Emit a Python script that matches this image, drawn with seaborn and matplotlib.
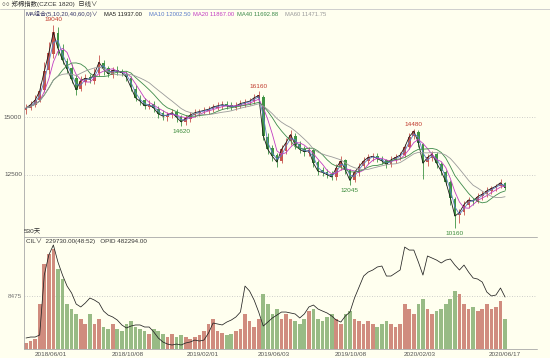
import numpy as np
import pandas as pd
import matplotlib
matplotlib.use("Agg")
import matplotlib.pyplot as plt
import seaborn as sns

sns.set_style("white")
plt.rcParams['font.family'] = ['Liberation Sans', 'Noto Sans CJK SC', 'DejaVu Sans']

# ---------------- data (one candle = ~5 trading days) ----------------
close = [15400, 15550, 15750, 16150, 17000, 17800, 18700, 18000, 17500, 17100,
         16650, 16200, 16600, 16700, 16650, 16900, 17400, 17100, 16900, 17050,
         17000, 16950, 16750, 16300, 15850, 15700, 15500, 15550, 15400, 15150,
         15050, 15100, 15200, 15000, 14800, 14950, 15100, 15200, 15250, 15300,
         15350, 15450, 15500, 15550, 15500, 15450, 15500, 15600, 15650, 15700,
         15850, 15950, 14200, 13600, 13300, 13050, 13600, 13900, 14250, 13800,
         13600, 13500, 13550, 13000, 12650, 12600, 12500, 12400, 12800, 13100,
         12700, 12250, 12600, 12850, 13100, 13250, 13300, 13200, 13100, 12950,
         13150, 13250, 13350, 13700, 14150, 14400, 13900, 13000, 13250, 13400,
         13000, 12650, 12200, 11500, 10700, 10850, 11200, 11400, 11350, 11550,
         11650, 11800, 11900, 12000, 12150, 11940]
open_ = [15300, 15420, 15530, 15760, 16200, 17050, 17750, 18650, 17950, 17450,
         17150, 16700, 16250, 16550, 16750, 16600, 16950, 17350, 17150, 16850,
         17080, 16980, 16900, 16700, 16250, 15800, 15750, 15450, 15600, 15380,
         15200, 15000, 15120, 15250, 15020, 14780, 14930, 15120, 15180, 15270,
         15280, 15380, 15420, 15480, 15580, 15520, 15420, 15520, 15580, 15680,
         15720, 15820, 15900, 14150, 13650, 13350, 13100, 13550, 13950, 14200,
         13850, 13620, 13450, 13580, 13050, 12700, 12620, 12520, 12380, 12820,
         13120, 12700, 12280, 12580, 12870, 13080, 13270, 13320, 13180, 13120,
         12980, 13130, 13270, 13380, 13720, 14180, 14380, 13850, 13050, 13220,
         13420, 12980, 12620, 12180, 11450, 10750, 10880, 11180, 11420, 11330,
         11560, 11670, 11780, 11920, 12020, 12130]
high = [15600, 15700, 15950, 16500, 17400, 18300, 19040, 18950, 18200, 17600,
        17300, 16850, 16800, 16900, 16900, 17150, 17700, 17500, 17250, 17200,
        17250, 17100, 17000, 16800, 16400, 15950, 15850, 15750, 15700, 15500,
        15300, 15250, 15350, 15350, 15100, 15100, 15250, 15350, 15380, 15450,
        15500, 15600, 15650, 15700, 15700, 15650, 15650, 15750, 15800, 15850,
        16000, 16160, 15950, 14300, 13800, 13450, 13800, 14100, 14450, 14300,
        13950, 13750, 13700, 13650, 13150, 12850, 12750, 12650, 12950, 13300,
        13200, 12750, 12700, 13000, 13250, 13400, 13450, 13450, 13300, 13200,
        13300, 13400, 13500, 13850, 14300, 14480, 14450, 13900, 13400, 13550,
        13500, 13050, 12700, 12250, 11550, 11000, 11350, 11550, 11500, 11700,
        11800, 11950, 12000, 12100, 12300, 12200]
low = [15150, 15300, 15450, 15650, 16100, 16900, 17600, 17700, 17300, 16950,
       16500, 15950, 16150, 16400, 16500, 16450, 16800, 16850, 16750, 16700,
       16850, 16800, 16600, 16150, 15700, 15550, 15350, 15350, 15250, 14950,
       14900, 14850, 14950, 14800, 14620, 14650, 14800, 15000, 15050, 15150,
       15150, 15250, 15300, 15350, 15350, 15300, 15300, 15400, 15450, 15550,
       15600, 15700, 14000, 13400, 13100, 12850, 13000, 13400, 13800, 13600,
       13450, 13300, 13300, 12850, 12500, 12450, 12350, 12250, 12250, 12700,
       12550, 12045, 12200, 12450, 12750, 12950, 13100, 13050, 12950, 12800,
       12850, 13000, 13150, 13250, 13600, 14050, 13700, 12300, 12900, 13100,
       12800, 12500, 12050, 11200, 10160, 10400, 10750, 11050, 11200, 11250,
       11400, 11550, 11650, 11800, 11900, 11850]
volume = [6, 8, 10, 45, 85, 95, 100, 80, 70, 45,
          40, 35, 30, 25, 35, 25, 30, 22, 20, 25,
          20, 18, 25, 28, 22, 20, 18, 15, 20, 18,
          15, 12, 15, 12, 14, 12, 10, 12, 14, 18,
          25, 30, 18, 16, 14, 15, 18, 20, 35, 28,
          22, 30, 55, 45, 35, 40, 30, 35, 30, 28,
          25, 30, 38, 40, 30, 28, 32, 35, 30, 25,
          35, 38, 30, 28, 25, 28, 25, 22, 25, 28,
          25, 22, 25, 45, 40, 35, 45, 50, 40, 35,
          38, 40, 45, 50, 58, 55, 45, 40, 42, 38,
          40, 45, 40, 42, 48, 30]
open_interest = [102, 111, 111, 130, 686, 872, 965, 807, 686, 584,
                 519, 417, 390, 427, 473, 454, 427, 352, 315, 297,
                 269, 223, 195, 213, 223, 223, 204, 204, 158, 102,
                 65, 46, 37, 46, 37, 56, 65, 83, 74, 83,
                 148, 241, 232, 223, 250, 269, 297, 343, 584, 538,
                 454, 343, 213, 250, 288, 315, 343, 343, 334, 325,
                 288, 325, 390, 408, 371, 352, 334, 306, 269, 250,
                 306, 343, 473, 575, 677, 714, 733, 761, 770, 677,
                 677, 705, 733, 946, 918, 918, 807, 686, 863, 844,
                 825, 798, 825, 835, 779, 733, 779, 714, 659, 649,
                 621, 529, 492, 501, 566, 482]
date_labels = ["2018/06/01", "2018/10/08", "2019/02/01", "2019/06/03",
               "2019/10/08", "2020/02/03", "2020/06/17"]
date_pos = [5.5, 22.4, 38.8, 54.2, 71.1, 86.2, 105]
ma_names = ["MA5", "MA10", "MA20", "MA40", "MA60"]
ma_windows = [1, 2, 4, 8, 12]          # in 5-day candles
ma_values = ["11937.00", "12002.50", "11867.00", "11692.88", "11471.75"]
peak_labels = [(6, 19040, "h"), (51, 16160, "h"), (34, 14620, "l"),
               (71, 12045, "l"), (85, 14480, "h"), (94, 10160, "l")]

# ---------------- styling ----------------
BG = "#FFFFEF"
UP = "#C8554E"
DN = "#3F9443"
ma_colors = ["#1A1A1A", "#5A7BC8", "#C23CC2", "#3D8A4A", "#9A9A9A"]
W, H = 550, 358

df = pd.DataFrame({"k": np.arange(len(close)), "open": open_, "high": high,
                   "low": low, "close": close, "vol": volume, "oi": open_interest})
df["up"] = df["close"] >= df["open"]

fig = plt.figure(figsize=(W / 100, H / 100), dpi=100, facecolor=BG)

def fx(px):
    return px / W

def fy(py):
    return 1 - py / H

ax = fig.add_axes([fx(24), fy(237), fx(513), 228 / H])
ax.set_facecolor(BG)
ax.set_xlim(-0.44, 112.0)
ax.set_ylim(9787, 19717)

for g in (15000, 12500):
    ax.axhline(g, color="#BEBEBE", lw=0.6, ls=(0, (1, 2)), zorder=0)

# candles
cols = np.where(df["up"], UP, DN)
ax.vlines(df["k"], df["low"], df["high"], colors=cols, lw=0.6, zorder=2)
body_b = np.minimum(df["open"], df["close"])
body_h = np.maximum(np.abs(df["close"] - df["open"]), 25)
ax.bar(df["k"], body_h, bottom=body_b, width=0.6, color=cols, lw=0, zorder=2)

# moving averages
for name, w, c in zip(ma_names, ma_windows, ma_colors):
    ma = df["close"].rolling(w, min_periods=1).mean()
    sns.lineplot(x=df["k"], y=ma, ax=ax, color=c, lw=0.6, zorder=3)

for k, v, kind in peak_labels:
    if kind == "h":
        ax.annotate(str(v), (k, v), xytext=(0, 1.5), textcoords="offset points",
                    ha="center", va="bottom", fontsize=4.6, color="#C0392B")
    else:
        ax.annotate(str(v), (k, v), xytext=(0, -2), textcoords="offset points",
                    ha="center", va="top", fontsize=4.6, color="#3A8A3A")

ax.set_xlabel(""); ax.set_ylabel("")
ax.set_xticks([]); ax.set_yticks([])
for s in ax.spines.values():
    s.set_visible(False)

# lower panel
ax2 = fig.add_axes([fx(24), fy(349), fx(513), 111 / H])
ax2.set_facecolor(BG)
ax2.set_xlim(-0.44, 112.0)
ax2.set_ylim(0, 111)
vcols = np.where(df["up"], "#CB8072", "#8DB47A")
ax2.bar(df["k"], df["vol"], width=0.8, color=vcols, lw=0, alpha=0.9, zorder=1)
ax2.axhline(53, color="#BEBEBE", lw=0.6, ls=(0, (1, 2)), zorder=0)
ax2.set_xticks(date_pos)
ax2.set_xticklabels(date_labels, fontsize=4.6, color="#555555")
ax2.tick_params(axis="x", length=0, pad=2.5)
ax2.set_yticks([])
for s in ax2.spines.values():
    s.set_visible(False)

ax3 = ax2.twinx()
ax3.set_ylim(0, 1030)
ax3.set_xlim(-0.44, 112.0)
sns.lineplot(x=df["k"], y=df["oi"], ax=ax3, color="#222222", lw=0.55, zorder=3)
ax3.set_yticks([]); ax3.set_xlabel(""); ax3.set_ylabel("")
for s in ax3.spines.values():
    s.set_visible(False)

# frame lines
line_c = "#A8A8A8"
fig.add_artist(plt.Line2D([fx(0), fx(550)], [fy(9), fy(9)], color="#C8C8C8", lw=0.6))
fig.add_artist(plt.Line2D([fx(24), fx(24)], [fy(9), fy(349)], color=line_c, lw=0.6))
fig.add_artist(plt.Line2D([fx(24), fx(537)], [fy(237), fy(237)], color=line_c, lw=0.6))
fig.add_artist(plt.Line2D([fx(24), fx(537)], [fy(349), fy(349)], color=line_c, lw=0.6))

# texts
fig.text(fx(2), fy(4), "○○ 郑棉指数(CZCE 1820)  日线∨", fontsize=4.6, color="#333333", va="center")
fig.text(fx(26), fy(14), "MA组合(5,10,20,40,60,0)∨", fontsize=4.3, color="#333366", va="center")
xs = [104, 149, 193, 237, 285]
for x0, n, v, c in zip(xs, ma_names, ma_values, ma_colors):
    fig.text(fx(x0), fy(14), f"{n} {v}", fontsize=4.2, color=c, va="center")
fig.text(fx(22), fy(117.3), "15000", fontsize=4.6, color="#555555", ha="right", va="center")
fig.text(fx(22), fy(174.7), "12500", fontsize=4.6, color="#555555", ha="right", va="center")
fig.text(fx(22), fy(296), "8475", fontsize=4.6, color="#777777", ha="right", va="center")
fig.text(fx(24), fy(231), "530天", fontsize=4.6, color="#333333", va="center")
fig.text(fx(26), fy(241), "CIL∨  229730.00(48:52)   OPID 482294.00", fontsize=4.5,
         color="#333333", va="center")

fig.savefig("out.png", dpi=100, facecolor=BG)
